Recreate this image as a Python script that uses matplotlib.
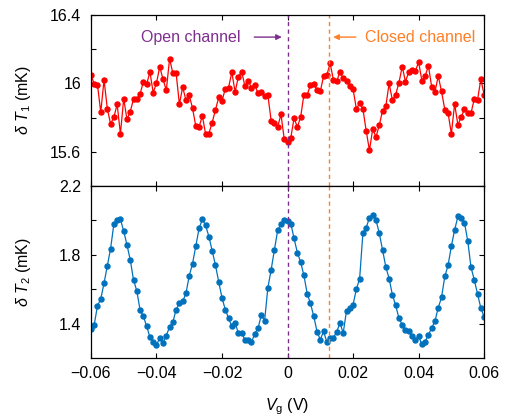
import numpy as np
import matplotlib
matplotlib.use('Agg')
import matplotlib.pyplot as plt

plt.rcParams['font.family'] = ['Liberation Sans', 'DejaVu Sans']
plt.rcParams['mathtext.fontset'] = 'custom'
plt.rcParams['mathtext.rm'] = 'Liberation Sans'
plt.rcParams['mathtext.it'] = 'Liberation Sans:italic'

# gate voltage, one point every 1 mV
vg = np.round(np.arange(-0.06, 0.0605, 0.001), 4)

# delta T1 (mK), top panel
dT1 = [16.049, 15.998, 15.992, 15.831, 16.021, 15.852, 15.763, 15.802, 15.878, 15.705,
       15.911, 15.790, 15.835, 15.909, 15.909, 15.938, 16.010, 15.994, 16.068, 15.946,
       16.002, 16.097, 16.025, 15.959, 16.144, 16.060, 16.060, 15.878, 15.979, 15.901,
       15.930, 15.856, 15.750, 15.746, 15.810, 15.705, 15.707, 15.771, 15.845, 15.918,
       15.897, 15.969, 15.975, 16.066, 15.950, 16.039, 16.068, 15.984, 16.016, 15.973,
       15.992, 15.942, 15.951, 15.928, 15.930, 15.783, 15.769, 15.746, 15.819, 15.674,
       15.660, 15.682, 15.798,
       15.744, 15.804, 15.934, 15.934, 15.990, 15.998, 15.963, 15.953, 16.043, 16.049,
       16.118, 16.021, 16.012, 16.068, 16.029, 16.012, 15.983, 15.967, 15.852, 15.883,
       15.852, 15.724, 15.608, 15.734, 15.687, 15.755, 15.841, 15.866, 16.000, 15.903,
       15.934, 16.004, 16.099, 16.010, 16.068, 16.080, 16.070, 16.126, 16.017, 16.043,
       16.103, 15.979, 15.951, 16.043, 15.953, 15.847, 15.827, 15.705, 15.880, 15.757,
       15.804, 15.849, 15.825, 15.827, 15.909, 15.905, 16.025, 15.934]

# delta T2 (mK), bottom panel
dT2 = [1.369, 1.393, 1.504, 1.543, 1.635, 1.736, 1.836, 1.979, 2.002, 2.006,
       1.938, 1.857, 1.771, 1.654, 1.590, 1.479, 1.443, 1.385, 1.322, 1.293,
       1.275, 1.316, 1.287, 1.330, 1.381, 1.408, 1.482, 1.518, 1.529, 1.576,
       1.678, 1.748, 1.850, 1.953, 2.006, 1.971, 1.906, 1.824, 1.740, 1.643,
       1.549, 1.482, 1.432, 1.385, 1.404, 1.346, 1.348, 1.305, 1.307, 1.291,
       1.342, 1.373, 1.449, 1.416, 1.609, 1.713, 1.830, 1.943, 1.979, 2.000,
       1.994, 1.982, 1.895,
       1.813, 1.758, 1.680, 1.574, 1.518, 1.443, 1.354, 1.307, 1.355, 1.293,
       1.316, 1.318, 1.352, 1.404, 1.346, 1.475, 1.492, 1.510, 1.600, 1.660,
       1.926, 1.957, 2.016, 2.031, 2.002, 1.926, 1.828, 1.730, 1.662, 1.568,
       1.506, 1.432, 1.393, 1.361, 1.357, 1.326, 1.303, 1.328, 1.279, 1.295,
       1.336, 1.373, 1.416, 1.492, 1.553, 1.674, 1.740, 1.850, 1.945, 2.023,
       2.014, 1.986, 1.881, 1.727, 1.654, 1.572, 1.490, 1.439]

v_open = 0.0
v_closed = 0.0127

red = '#ff0000'
blue = '#0072bd'
purple = '#7e2f8e'
orange = '#ff7f27'

fig = plt.figure(figsize=(5.08, 4.18), dpi=100)
ax1 = fig.add_axes([0.179, 0.555, 0.774, 0.409])
ax2 = fig.add_axes([0.179, 0.1435, 0.774, 0.4115])

ax1.plot(vg, dT1, '-o', color=red, lw=0.9, ms=3.6)
ax2.plot(vg, dT2, '-o', color=blue, lw=0.9, ms=3.6)

for ax in (ax1, ax2):
    ax.axvline(v_open, color=purple, ls=(0, (3, 2.5)), lw=1)
    ax.axvline(v_closed, color=orange, ls=(0, (3, 2.5)), lw=1)
    ax.set_xlim(-0.06, 0.06)
    ax.set_xticks([-0.06, -0.04, -0.02, 0, 0.02, 0.04, 0.06])
    ax.tick_params(direction='in', top=True, right=True, labelsize=11.5,
                   length=3.5, width=0.8)
    ax.tick_params(axis='y', pad=7)
    ax.tick_params(axis='x', pad=6)
    for s in ax.spines.values():
        s.set_linewidth(0.9)

ax1.set_ylim(15.4, 16.4)
ax1.set_yticks([15.6, 15.8, 16.0, 16.2, 16.4])
ax1.set_yticklabels(['15.6', '', '16', '', '16.4'])
ax1.tick_params(labelbottom=False)

ax2.set_ylim(1.2, 2.2)
ax2.set_yticks([1.4, 1.6, 1.8, 2.0, 2.2])
ax2.set_yticklabels(['1.4', '', '1.8', '', '2.2'])
ax2.set_xticklabels(['\u22120.06', '\u22120.04', '\u22120.02', '0', '0.02', '0.04', '0.06'])

ax1.set_ylabel(r'$\delta$ $T_{\rm 1}$ (mK)', fontsize=11.5)
ax2.set_ylabel(r'$\delta$ $T_{\rm 2}$ (mK)', fontsize=11.5)
ax1.yaxis.set_label_coords(-0.148, 0.5)
ax2.yaxis.set_label_coords(-0.148, 0.5)
ax2.set_xlabel(r'$V_{\rm g}$ (V)', fontsize=11.5)
ax2.xaxis.set_label_coords(0.5, -0.225)

ax1.text(-0.0296, 16.271, 'Open channel', color=purple, fontsize=11.5,
         ha='center', va='center')
ax1.annotate('', xy=(-0.0009, 16.271), xytext=(-0.011, 16.271),
             arrowprops=dict(arrowstyle='-|>', color=purple, lw=1, mutation_scale=8))
ax1.text(0.0406, 16.271, 'Closed channel', color=orange, fontsize=11.5,
         ha='center', va='center')
ax1.annotate('', xy=(0.0131, 16.271), xytext=(0.0217, 16.271),
             arrowprops=dict(arrowstyle='-|>', color=orange, lw=1, mutation_scale=8))

plt.savefig('out.png', dpi=100)
